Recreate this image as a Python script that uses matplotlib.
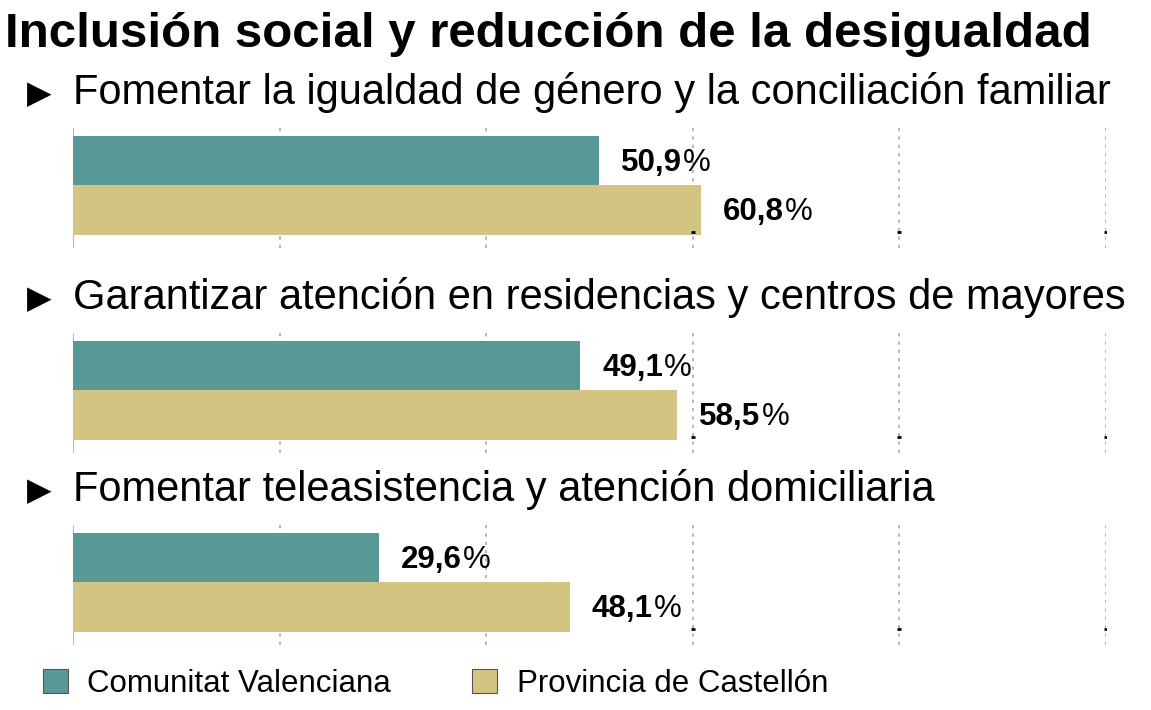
# -*- coding:utf-8 -*-
import matplotlib
matplotlib.use('Agg')
import matplotlib.pyplot as plt
from matplotlib.patches import Patch

# datos
titulo = 'Inclusión social y reducción de la desigualdad'
categorias = ['Fomentar la igualdad de género y la conciliación familiar',
              'Garantizar atención en residencias y centros de mayores',
              'Fomentar teleasistencia y atención domiciliaria']
comunitat = [50.9, 49.1, 29.6]
castellon = [60.8, 58.5, 48.1]
series = ['Comunitat Valenciana', 'Provincia de Castellón']
ticks = [0, 20, 40, 60, 80, 100]

col_cv = '#579996'
col_cs = '#d3c581'

plt.rcParams['font.family'] = ['Liberation Sans', 'DejaVu Sans']

fig = plt.figure(figsize=(11.51, 7.10), dpi=100)

fig.text(5 / 1151, 1 - 47 / 710, titulo, fontsize=35.5, fontweight='bold',
         ha='left', va='baseline')

# posicion de cada panel (borde inferior en fraccion de figura)
bottoms = [0.6507, 0.3620, 0.0915]
for i, cat in enumerate(categorias):
    ax = fig.add_axes([0.06342, bottoms[i], 0.89748, 0.169])
    vals = [comunitat[i], castellon[i]]
    ax.barh([0, 1], vals, height=1.0, color=[col_cv, col_cs], zorder=2)
    ax.set_xlim(0, 100)
    ax.set_ylim(1.77, -0.66)
    for sp in ax.spines.values():
        sp.set_visible(False)
    ax.set_xticks([])
    ax.set_yticks([])
    # lineas de referencia
    for t in ticks:
        if t == 0:
            ax.axvline(t, color='#aaaaaa', lw=1.2, zorder=1)
        else:
            ax.axvline(t, color='#aaaaaa', lw=1.2, ls=(0, (2, 3)), zorder=1)
    # marcas negras en la base
    ax.plot(ticks[3:], [1.45] * 3, ls='none', marker='_', ms=3, mew=2,
            color='black', zorder=3)
    # etiquetas de valores
    for y, v in zip([0, 1], vals):
        num = ax.annotate(f'{v:.1f}'.replace('.', ','), xy=(v, y),
                          xytext=(22, -2), textcoords='offset pixels',
                          fontsize=22.5, fontweight='bold', ha='left', va='center')
        ax.annotate('%', xy=(1, 0), xycoords=num, xytext=(1, 0),
                    textcoords='offset pixels', fontsize=22.5, ha='left', va='bottom')
    # encabezado
    ax.text(-0.033, 1.21, '\u25b6', transform=ax.transAxes, fontsize=23,
            family=['DejaVu Sans'], ha='center', va='baseline')
    ax.text(0.0, 1.2, cat, transform=ax.transAxes, fontsize=30,
            ha='left', va='baseline')

handles = [Patch(facecolor=col_cv, edgecolor='#555555', lw=0.8),
           Patch(facecolor=col_cs, edgecolor='#555555', lw=0.8)]
fig.legend(handles, series, loc='center left', bbox_to_anchor=(43 / 1151, 1 - 683.5 / 710),
           ncol=2, frameon=False, fontsize=22.5, handlelength=0.8, handleheight=0.8,
           handletextpad=0.62, columnspacing=2.6, borderpad=0, borderaxespad=0)

fig.savefig('out.png', dpi=100)
